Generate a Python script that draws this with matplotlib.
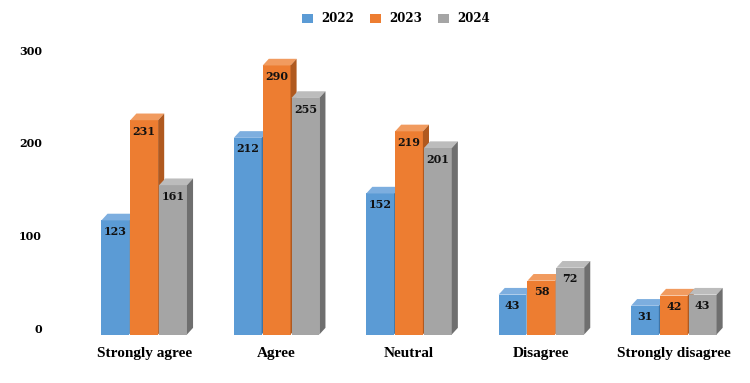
import matplotlib.pyplot as plt
from matplotlib.patches import Polygon, Patch
from matplotlib.transforms import ScaledTranslation

# -----------------------------
# DATI
# -----------------------------
categories = ["Strongly agree", "Agree", "Neutral", "Disagree", "Strongly disagree"]
years = ["2022", "2023", "2024"]
v2022 = [123, 212, 152, 43, 31]
v2023 = [231, 290, 219, 58, 42]
v2024 = [161, 255, 201, 72, 43]

# colori: fronte, top, lato
front = ["#5B9BD5", "#ED7D31", "#A5A5A5"]
top = ["#7DAEDF", "#F19B5F", "#BCBCBC"]
side = ["#3E74A6", "#B0591F", "#6F6F6F"]

FONT = ["DejaVu Serif"]
FONT_CAT = ["Liberation Serif", "DejaVu Serif"]

fig = plt.figure(figsize=(7.5, 3.83), dpi=100)
ax = fig.add_axes([78 / 750, 48.5 / 383, 662 / 750, 295 / 383])
ax.set_xlim(-0.5, 4.5)
ax.set_ylim(0, 318)

w = 0.21
offs = [-0.218, 0.0, 0.218]
dx = 0.046   # profondita' orizzontale
dy = 7.2     # profondita' verticale

for s, vals in enumerate([v2022, v2023, v2024]):
    for i, v in enumerate(vals):
        x0 = i + offs[s] - w / 2
        x1 = x0 + w
        ax.add_patch(Polygon([(x0, 0), (x1, 0), (x1, v), (x0, v)],
                             closed=True, facecolor=front[s], edgecolor="none", zorder=2))
        ax.add_patch(Polygon([(x0, v), (x1, v), (x1 + dx, v + dy), (x0 + dx, v + dy)],
                             closed=True, facecolor=top[s], edgecolor="none", zorder=2))
        ax.add_patch(Polygon([(x1, 0), (x1 + dx, dy), (x1 + dx, v + dy), (x1, v)],
                             closed=True, facecolor=side[s], edgecolor="none", zorder=2))
        ax.text(i + offs[s], v - 12, str(v), ha="center", va="center",
                fontsize=8, fontweight="bold", family=FONT, color="#111111", zorder=3)

ax.set_xticks(range(len(categories)))
ax.set_xticklabels(categories, fontsize=11, fontweight="bold", family=FONT_CAT)
ax.set_yticks([0, 100, 200, 300])
ax.set_yticklabels(["0", "100", "200", "300"], fontsize=8, fontweight="bold", family=FONT)
ax.tick_params(axis="both", length=0)
ax.tick_params(axis="x", pad=9)
ax.tick_params(axis="y", pad=26)
for lab in ax.get_yticklabels():
    lab.set_transform(lab.get_transform() + ScaledTranslation(0, 6 / 100, fig.dpi_scale_trans))
for sp in ax.spines.values():
    sp.set_visible(False)

handles = [Patch(facecolor=c, edgecolor="none") for c in front]
leg = fig.legend(handles, years, loc="center", bbox_to_anchor=(396 / 750, 1 - 19 / 383),
                 ncol=3, frameon=False, handlelength=0.9, handleheight=0.9,
                 columnspacing=1.4, handletextpad=0.7,
                 prop={"family": FONT, "weight": "bold", "size": 8.5})

fig.savefig("out.png", dpi=100, facecolor="white")
